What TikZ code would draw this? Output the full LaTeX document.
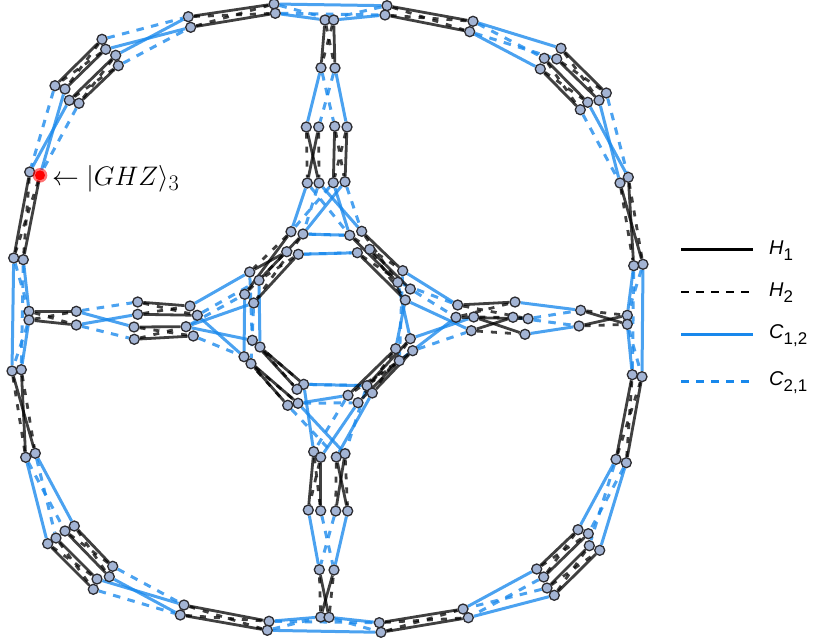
\documentclass[tikz,border=0pt]{standalone}
\usepackage{fontspec}
\setmainfont{Liberation Sans}
\usepackage{graphicx}
\usepackage{tikz}
\usetikzlibrary{backgrounds}
\definecolor{HamBlack}{RGB}{0,0,0}
\definecolor{CtrlBlue}{RGB}{24,136,236}
\definecolor{PointFill}{RGB}{163,180,212}
\definecolor{PointEdge}{RGB}{45,45,50}
\newcommand{\legsub}[2]{\textit{#1}\raisebox{-0.3em}{\fontsize{17}{17}\selectfont #2}}

\begin{document}
\begin{tikzpicture}[x=1bp,y=-1bp,
      pt/.style={circle,draw=PointEdge,fill=PointFill,line width=1.3bp,inner sep=0pt,minimum size=10bp},
      hs/.style={draw=HamBlack,opacity=0.75,line width=2.8bp},
      hd/.style={hs,dash pattern=on 6bp off 8bp},
      cs/.style={draw=CtrlBlue,opacity=0.78,line width=3bp},
      cd/.style={cs,dash pattern=on 7.5bp off 7.5bp},
      lab/.style={anchor=west,font=\fontsize{20}{20}\selectfont,inner sep=0pt}]
    \useasboundingbox (0,0) rectangle (814,641);
    % outer ring
    \foreach \n/\x/\y in {ta/188.3/16.7,tb/190.7/27.3,tc/274/4,td/275.3/13.3,te/325/20,tf/333.7/20,tg/387/5.7,th/385/15,ti/473/21.3,tj/469.7/31.7,
        da/561/48.3,db/544.3/58.3,dc/556.7/59,dd/540.3/69,de/606.3/93,df/599/100.3,dg/587.7/102.3,dh/580.3/109.7,
        cr/628.3/177.3,cq/620/183,cp/643/264.3,co/633.7/265.7,cm/627.3/315.3,cn/627.3/324.3,ck/632.3/374.7,cl/642/376.7,ci/616/459.3,cj/626.3/462.7,
        ce/578/529.7,cf/588.3/533.7,cg/589.3/545.7,ch/599.7/550.3,ca/536.7/569,cb/543.7/577,cc/547/588,cd/554.3/595.3,
        bq/463/609,br/468.3/617.7,bo/379.3/622.7,bp/381/632.3,bm/320.7/617,bn/329/617.3,bk/269/621.3,bl/267.3/630.3,bi/184/605,bj/180.3/615,
        be/112.7/566.3,bf/109.3/576.7,bg/97/579,bh/93.3/589.3,ba/47.7/543.7,bb/56/538,bc/65/531,bd/74.3/526,
        lq/25.7/457.3,lr/35.3/453.3,lo/12/371,lp/21.3/369.7,lm/29/311.3,ln/29/320,lk/13.7/258,ll/23.3/259.7,li/29.7/172,
        le/55/85.7,lf/65/89,lg/69.3/100.3,lh/79/103.3,la/102/39.3,lb/105.7/49.3,lc/115.7/55.3,ld/118.3/65.7}
      \node[pt] (\n) at (\x,\y) {};
    % four arms
    \foreach \n/\x/\y in {ua/321/67.7,ub/335/68,uc/306.3/127,ud/318.7/127,ue/334.7/126.3,uf/347/127,t1/307.3/183,t2/319/183,t3/333.3/182.7,t4/345/181.7,
        w1/313.7/451.7,w2/320.7/457.3,w3/336.3/457,w4/345/453.7,x1/308.3/510,x2/320.7/510.7,x3/335.7/511,x4/347.7/511,x5/319.3/569.7,x6/334/570,
        ma/76.3/311.3,mb/76.3/325,mc/137.7/302,md/137.7/314.3,me/134/327,mf/134.3/339.3,mg/190/306,mh/197.3/315.3,mi/186/326.7,mj/193.3/336,
        na/457.7/305,nb/456/317.3,nc/473.7/317,nd/471.3/330.7,ne/515/302,nf/513/317.3,ng/528/318.7,nh/525/334.3,ni/580.7/310.3,nj/579/326}
      \node[pt] (\n) at (\x,\y) {};
    % inner octagon
    \foreach \n/\x/\y in {u1/291/231.7,u2/303/234,u3/349.7/235.3,u4/361.7/231.3,v1/286.7/251.7,v2/298.3/254.3,v3/357.3/252.7,v4/369.7/249.3,
        oa/249.7/272,ob/259/280.3,oc/244.7/294.3,od/253.7/303,oe/252.3/340.3,of/260/347,og/244/356.7,oh/251/363.7,
        p1/402.7/270.7,p2/397.7/282.3,p3/410.3/289,p4/405.3/300,q1/410.3/338.7,q2/395.7/348.7,q3/412.7/350.7,q4/399.3/360.7,
        r1/367/385.7,r2/372.3/393,r3/348/395.3,r4/358/402.7,s1/303.7/384.3,s2/297/389.3,s3/298/403.3,s4/287.7/405.3}
      \node[pt] (\n) at (\x,\y) {};
    % marked point
    \fill[red,opacity=0.55] (40,175.3) circle (7.3bp);
    \node[pt,draw=none,fill=red] (lj) at (40,175.3) {};
    \node[anchor=west,inner sep=0pt,font=\fontfamily{lmr}\fontsize{24.88}{25}\selectfont] (ghz) at (52,178.5) {\scalebox{1.08}{$\leftarrow |GHZ\rangle_3$}};
    \begin{scope}[on background layer]
    % C edges
    \foreach \x/\y in {lb/tb,lc/ta,lg/li,lf/lj,lk/lo,ll/lm,ln/lp,ma/me,mb/md,mg/oa,mi/od,mh/og,mi/oe,
        lq/ba,lr/bd,bg/bi,bf/bj,bk/bm,bn/bo,bl/bp,bq/ca,br/cd,ce/ci,ch/cj,cl/cp,co/cm,cn/ck,
        dg/cr,df/cq,ti/da,tj/dd,tc/tg,td/te,th/tf,ua/uc,ub/uf,t1/u1,t2/u4,t3/u3,t4/u2,u2/u3,v2/v3,
        oc/og,ob/of,s1/r1,s3/r3,s1/w1,s3/w4,r4/w2,r2/w3,x1/x5,x4/x6,p2/q1,p4/q2,p1/na,p4/nd,q4/nb,q1/nc,ne/ni,nh/nj}
      \draw[cs] (\x) -- (\y);
    \foreach \x/\y in {la/ta,ld/tb,le/li,lh/lj,lk/lm,ln/lo,ll/lp,ma/mc,mb/mf,mh/ob,mi/oc,mj/og,
        lq/bc,lr/bb,be/bi,bh/bj,bk/bo,bl/bm,bn/bp,cb/br,cc/bq,ci/cg,cj/cf,cp/cm,cn/cl,co/ck,
        de/cr,dh/cq,ti/db,tj/dc,tc/tf,tg/te,td/th,ua/ue,ub/ud,t1/u3,t2/u2,t3/u1,t4/u4,u2/u3,v2/v3,
        oa/oe,od/oh,s1/r1,s3/r4,s4/w3,r3/w1,r1/w4,x2/x6,x3/x5,p1/q4,p2/na,p3/nb,q3/nd,ng/ni,nf/nj}
      \draw[cd] (\x) -- (\y);
    % H edges
    \foreach \x/\y in {ta/tc,tb/td,tg/ti,th/tj,la/le,lb/lf,lc/lg,ld/lh,li/lk,lj/ll,lm/ma,ln/mb,lo/lr,lp/lq,
        ba/bh,bb/bg,bc/bf,bd/be,bi/bk,bj/bl,bo/bq,bp/br,bm/x6,bn/x5,ca/ce,cb/cf,cc/cg,cd/ch,ci/ck,cj/cl,
        ni/cn,nj/cm,cr/co,cq/cp,da/de,dc/df,db/dg,dd/dh,te/ua,tf/ub,uc/t2,ud/t1,ue/t3,uf/t4,
        mc/mg,md/mh,me/mi,mf/mj,na/ne,nb/ng,nc/nh,nd/nf,w1/x1,w2/x2,w3/x4,w4/x3,
        u1/oc,v1/oa,u2/ob,v2/od,u4/p1,u3/p2,v4/p3,v3/p4,q2/r3,q4/r4,q1/r1,q3/r2,of/s1,oe/s2,oh/s4,og/s3}
      \draw[hs] (\x) -- (\y);
    \foreach \x/\y in {ta/td,tb/tc,tg/tj,th/ti,la/lf,lb/le,lc/lh,ld/lg,li/ll,lj/lk,lm/mb,ln/ma,lo/lq,lp/lr,
        ba/bg,bb/bh,bc/be,bd/bf,bi/bl,bj/bk,bo/br,bp/bq,bm/x5,bn/x6,ca/cf,cb/ce,cc/ch,cd/cg,ci/cl,cj/ck,
        ni/cm,nj/cn,cr/cp,cq/co,da/df,dc/de,db/dh,dd/dg,te/ub,tf/ua,uc/t1,ud/t2,ue/t4,uf/t3,
        mc/mh,md/mg,me/mj,mf/mi,na/ng,nb/ne,nc/nf,nd/nh,w1/x2,w2/x1,w3/x3,w4/x4,
        u1/oa,v1/oc,u2/od,v2/ob,u4/p2,u3/p1,v4/p4,v3/p3,q2/r4,q4/r3,q1/r2,q3/r1,of/s2,oe/s1,oh/s3,og/s4}
      \draw[hd] (\x) -- (\y);
    \end{scope}
    % legend
    \foreach \n/\y/\c/\t/\k in {h1/249.3/HamBlack/H/1,h2/292/HamBlack/H/2,c1/334.7/CtrlBlue/C/{1,2},c2/381.3/CtrlBlue/C/{2,1}}{
      \coordinate (\n a) at (681,\y);
      \coordinate (\n b) at (753,\y);
      \node[lab] (\n t) at (769,\y+1) {\legsub{\t}{\k}};
    }
    \draw[line width=2.6bp,HamBlack] (h1a) -- (h1b);
    \draw[line width=2.6bp,HamBlack,dash pattern=on 8bp off 7bp] (h2a) -- (h2b);
    \draw[line width=2.6bp,CtrlBlue] (c1a) -- (c1b);
    \draw[line width=2.6bp,CtrlBlue,dash pattern=on 8bp off 7bp] (c2a) -- (c2b);
  \end{tikzpicture}
\end{document}
